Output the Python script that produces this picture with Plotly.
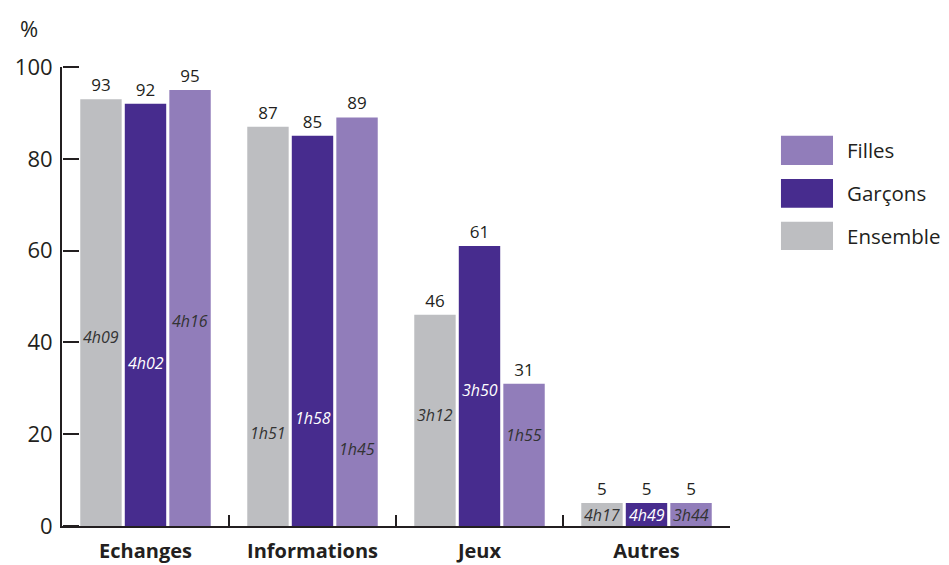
import plotly.graph_objects as go

categories = ["Echanges", "Informations", "Jeux", "Autres"]
series_names = ["Ensemble", "Garçons", "Filles"]
ensemble = [93, 87, 46, 5]
garcons = [92, 85, 61, 5]
filles = [95, 89, 31, 5]
time_ensemble = ["4h09", "1h51", "3h12", "4h17"]
time_garcons = ["4h02", "1h58", "3h50", "4h49"]
time_filles = ["4h16", "1h45", "1h55", "3h44"]
# vertical placement of the time labels (in % axis units)
time_pos_ensemble = [41.2, 20.3, 24.2, 2.4]
time_pos_garcons = [35.6, 23.5, 29.6, 2.4]
time_pos_filles = [44.7, 16.7, 19.8, 2.4]
y_ticks = [0, 20, 40, 60, 80, 100]

colors = ["#BDBEC1", "#472C8E", "#917DBA"]
time_colors = ["#333333", "#FFFFFF", "#333333"]
FONT = "Open Sans"
AX = "#231F20"

fig = go.Figure()
values = [ensemble, garcons, filles]
for name, vals, col in zip(series_names, values, colors):
    fig.add_trace(go.Bar(
        x=categories, y=vals, name=name, marker_color=col,
        marker_line_width=0,
        text=[str(v) for v in vals], textposition="outside",
        textfont=dict(family=FONT, size=17, color="#231F20"),
        cliponaxis=False, showlegend=False,
    ))

# empty helper trace so that the overlay tick axis is drawn
fig.add_trace(go.Scatter(x=[], y=[], yaxis="y2", showlegend=False, hoverinfo="skip"))

# time labels inside bars
times = [time_ensemble, time_garcons, time_filles]
poss = [time_pos_ensemble, time_pos_garcons, time_pos_filles]
shifts = [-45, 0, 44]
for t_list, p_list, sh, tc in zip(times, poss, shifts, time_colors):
    for cat, t, p in zip(categories, t_list, p_list):
        fig.add_annotation(x=cat, y=p, text="<i>" + t + "</i>", showarrow=False,
                           xshift=sh, font=dict(family=FONT, size=16, color=tc))

# manual legend (Filles, Garçons, Ensemble from top)
leg = [("Filles", colors[2], 0.8503, 0.7865), ("Garçons", colors[1], 0.7560, 0.6935),
       ("Ensemble", colors[0], 0.6630, 0.6013)]
for label, col, y1, y0 in leg:
    fig.add_shape(type="rect", xref="paper", yref="paper", x0=1.0763, x1=1.1542,
                  y0=y0, y1=y1, fillcolor=col, line_width=0)
    fig.add_annotation(xref="paper", yref="paper", x=1.172, y=(y0 + y1) / 2,
                       text=label, showarrow=False, xanchor="left", yanchor="middle",
                       font=dict(family=FONT, size=20.5, color="#231F20"))

fig.add_annotation(xref="paper", yref="paper", x=-0.049, y=1.085, text="%",
                   showarrow=False, xanchor="center", yanchor="middle",
                   font=dict(family=FONT, size=22, color="#231F20"))

fig.update_layout(
    width=941, height=557,
    margin=dict(l=54, r=219, t=59, b=39, autoexpand=False),
    paper_bgcolor="white", plot_bgcolor="white",
    barmode="group", bargap=0.20, bargroupgap=0.07,
    font=dict(family=FONT, color="#231F20"),
    showlegend=False,
    # overlay axis used only to draw the inward-pointing tick marks
    yaxis2=dict(overlaying="y", anchor="free", position=0, side="right",
                range=[0, 100], tickmode="array", tickvals=y_ticks,
                ticks="outside", ticklen=16, tickwidth=2, tickcolor=AX,
                showticklabels=False, showline=False, showgrid=False,
                zeroline=False, automargin=False),
)
fig.update_xaxes(
    showline=True, linecolor=AX, linewidth=2, automargin=False,
    ticks="inside", tickson="boundaries", ticklen=11, tickwidth=2, tickcolor=AX,
    tickfont=dict(family=FONT, size=20, color="#231F20", weight="bold"),
    ticklabelstandoff=6, showgrid=False, zeroline=False,
)
fig.update_layout(yaxis=dict(
    range=[0, 100], tickmode="array", tickvals=y_ticks,
    showline=True, linecolor=AX, linewidth=2, automargin=False,
    ticks="", tickfont=dict(family=FONT, size=22, color="#231F20"),
    ticklabelstandoff=3, showgrid=False, zeroline=False,
))

fig.write_html("out.html")
